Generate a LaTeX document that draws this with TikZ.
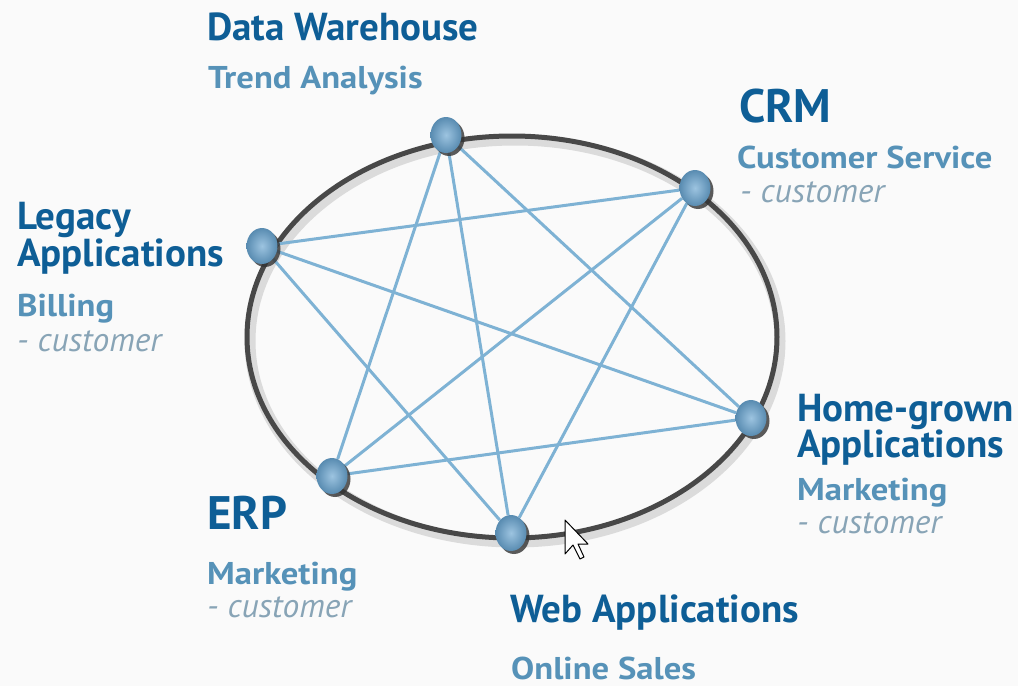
\documentclass[tikz,border=0pt]{standalone}
\usepackage{fontspec}
\setmainfont{PT Sans}
\newfontfamily\roleFont[FakeStretch = 1.1]{PT Sans}
\usetikzlibrary{shapes}
\usetikzlibrary{shadows}
\usetikzlibrary{backgrounds}
\definecolor{titleBlue}{RGB}{14,94,150}
\definecolor{roleBlue}{RGB}{86,146,184}
\definecolor{userGray}{RGB}{136,164,182}
\definecolor{edgeBlue}{RGB}{126,178,212}
\definecolor{nodeBlue}{RGB}{104,164,208}
\definecolor{ringGray}{RGB}{72,72,72}
\definecolor{paper}{RGB}{250,250,250}

\begin{document}
\begin{tikzpicture}[x = 1pt, y = -1pt]
	\tikzstyle{ballStyle} = [shape = ellipse, minimum width = 31pt, minimum height = 36pt, inner sep = 0pt, shading = radial, inner color = nodeBlue!65!white, outer color = nodeBlue!85!black, drop shadow = {shadow xshift = 3pt, shadow yshift = -3pt, opacity = 0.8, fill = black!80}]
	\tikzstyle{EdgeStyle} = [draw = edgeBlue, line width = 3pt]
	\tikzstyle{ringStyle} = [draw = ringGray, line width = 5pt]
	\tikzstyle{haloStyle} = [draw = black!14, line width = 11pt]
	\tikzstyle{textStyle} = [anchor = base west, inner sep = 0pt]
	\tikzstyle{titleStyle} = [textStyle, text = titleBlue, font = \fontsize{39}{42}\selectfont\bfseries]
	\tikzstyle{bigStyle} = [textStyle, text = titleBlue, font = \fontsize{47}{50}\selectfont\bfseries]
	\tikzstyle{roleStyle} = [textStyle, text = roleBlue, font = \roleFont\bfseries\fontsize{31.5}{34}\selectfont]
	\tikzstyle{userStyle} = [textStyle, text = userGray, font = \fontsize{33.5}{36}\selectfont\itshape]
	\useasboundingbox (0,0) rectangle (1018,686);
	\node[ballStyle] (v0) at (446,135) {};
	\node[ballStyle] (v1) at (695,188) {};
	\node[ballStyle] (v2) at (751,418) {};
	\node[ballStyle] (v3) at (511,533) {};
	\node[ballStyle] (v4) at (332,476) {};
	\node[ballStyle] (v5) at (262,246) {};
	\begin{pgfonlayer}{background}
		\fill[paper] (0,0) rectangle (1018,686);
		\draw[haloStyle] (515,341) ellipse [x radius = 265pt, y radius = 201pt];
		\draw[ringStyle] (512,337) ellipse [x radius = 265pt, y radius = 201pt];
		\draw[EdgeStyle] (v0) -- (v2);
		\draw[EdgeStyle] (v0) -- (v3);
		\draw[EdgeStyle] (v0) -- (v4);
		\draw[EdgeStyle] (v1) -- (v3);
		\draw[EdgeStyle] (v1) -- (v4);
		\draw[EdgeStyle] (v1) -- (v5);
		\draw[EdgeStyle] (v2) -- (v4);
		\draw[EdgeStyle] (v2) -- (v5);
		\draw[EdgeStyle] (v3) -- (v5);
	\end{pgfonlayer}
	\node[titleStyle] (dwName) at (207,40) {Data Warehouse};
	\node[roleStyle] (dwRole) at (208,88) {Trend Analysis};
	\node[bigStyle] (crmName) at (739,122) {CRM};
	\node[roleStyle] (crmRole) at (737,168) {Customer Service};
	\node[userStyle] (crmUser) at (740,202) {- customer};
	\node[titleStyle] (legName) at (17,229) {Legacy};
	\node[titleStyle] (legNameB) at (17,266) {Applications};
	\node[roleStyle] (legRole) at (17,316) {Billing};
	\node[userStyle] (legUser) at (17,351) {- customer};
	\node[titleStyle] (homeName) at (797,421) {Home-grown};
	\node[titleStyle] (homeNameB) at (797,457) {Applications};
	\node[roleStyle] (homeRole) at (797,500) {Marketing};
	\node[userStyle] (homeUser) at (797,533) {- customer};
	\node[bigStyle] (erpName) at (207,529) {ERP};
	\node[roleStyle] (erpRole) at (207,584) {Marketing};
	\node[userStyle] (erpUser) at (207,617) {- customer};
	\node[titleStyle] (webName) at (510,622) {Web Applications};
	\node[roleStyle] (webRole) at (511,679) {Online Sales};
	\draw[fill = white, draw = black, line width = 1pt, line join = round] (565,520) -- ++(0,34) -- ++(8,-9) -- ++(7,14) -- ++(4,-2) -- ++(-6,-13) -- ++(10,0) -- cycle;
\end{tikzpicture}
\end{document}
